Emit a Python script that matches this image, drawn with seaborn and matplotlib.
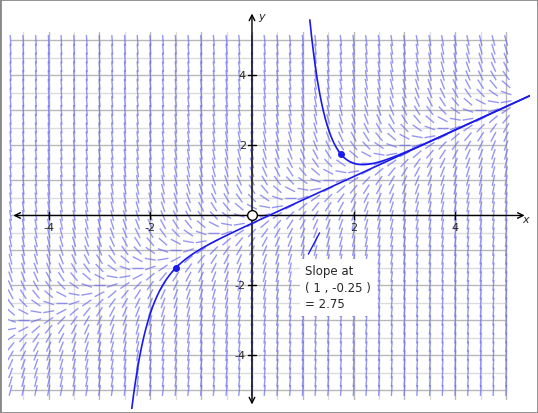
import numpy as np
import pandas as pd
import matplotlib
matplotlib.use("Agg")
import matplotlib.pyplot as plt
import seaborn as sns
from matplotlib.collections import LineCollection
from matplotlib.patches import Rectangle

# ODE dy/dx = a*x + b*y
coef_x = 2.0
coef_y = -3.0
start_points_x = [-1.5, 1.75]
start_points_y = [-1.5, 1.75]
slope_point = (1.0, -0.25)
slope_value = 2.75
slope_mark_center = (1.22, -0.8)
x_ticks = [-4, -2, 2, 4]
y_ticks = [-4, -2, 2, 4]

def f(x, y):
    return coef_x * x + coef_y * y

sns.set_style("white")
fig = plt.figure(figsize=(5.38, 4.14), dpi=100)
xmin, xmax = -4.8, 5.47
ymin, ymax = -5.53, 5.9
ax = fig.add_axes([8/538, 4/414, 522/538, 400/414])
ax.set_xlim(xmin, xmax); ax.set_ylim(ymin, ymax)
ax.axis("off")
pxx = 522 / (xmax - xmin); pxy = 400 / (ymax - ymin)

# grid
for gx in np.arange(-4.5, 5.01, 0.5):
    c = "#b8b8b8" if abs(gx - round(gx)) < 1e-9 else "#dcdcdc"
    ax.plot([gx, gx], [-5.25, 5.25], color=c, lw=1, zorder=1)
for gy in np.arange(-5, 5.01, 0.5):
    c = "#b8b8b8" if abs(gy - round(gy)) < 1e-9 else "#dcdcdc"
    ax.plot([-4.75, 5.0], [gy, gy], color=c, lw=1, zorder=1)

# slope field
segs = []
for gx in np.arange(-4.75, 5.01, 0.25):
    for gy in np.arange(-5.0, 5.01, 0.25):
        s = f(gx, gy)
        th = np.arctan(s * pxy / pxx)
        L = 5.5
        dx = np.cos(th) * L / pxx; dy = np.sin(th) * L / pxy
        segs.append([(gx - dx, gy - dy), (gx + dx, gy + dy)])
ax.add_collection(LineCollection(segs, colors="#6a6af0", linewidths=1, alpha=0.7, zorder=2))

# axes with arrows
ax.annotate("", xy=(xmax - 0.05, 0), xytext=(xmin + 0.05, 0),
            arrowprops=dict(arrowstyle="<->", color="black", lw=1), zorder=3)
ax.annotate("", xy=(0, ymax - 0.05), xytext=(0, ymin + 0.05),
            arrowprops=dict(arrowstyle="<->", color="black", lw=1), zorder=3)
for t in x_ticks:
    ax.plot([t, t], [-0.1, 0.1], color="black", lw=1, zorder=3)
    ax.text(t, -0.2, str(t), ha="center", va="top", fontsize=8, zorder=3)
for t in y_ticks:
    ax.plot([-0.08, 0.08], [t, t], color="black", lw=1, zorder=3)
    ax.text(-0.12, t, str(t), ha="right", va="center", fontsize=8, zorder=3)
ax.text(xmax - 0.15, -0.1, "x", style="italic", fontsize=8, va="center", ha="left")
ax.text(0.12, ymax - 0.2, "y", style="italic", fontsize=8, va="center", ha="left")

# solution curves via RK4
def integrate(x0, y0, x_end, h=0.002):
    xs, ys = [x0], [y0]
    x, y = x0, y0
    step = h if x_end > x0 else -h
    while (x_end - x) * step > 0:
        k1 = f(x, y); k2 = f(x + step/2, y + step*k1/2)
        k3 = f(x + step/2, y + step*k2/2); k4 = f(x + step, y + step*k3)
        y = y + step * (k1 + 2*k2 + 2*k3 + k4) / 6; x = x + step
        if abs(y) > 5.6:
            break
        xs.append(x); ys.append(y)
    return xs, ys

for x0, y0 in zip(start_points_x, start_points_y):
    xl, yl = integrate(x0, y0, xmin)
    xr, yr = integrate(x0, y0, xmax)
    xs = xl[::-1] + xr[1:]; ys = yl[::-1] + yr[1:]
    df = pd.DataFrame({"x": xs, "y": ys})
    sns.lineplot(data=df, x="x", y="y", ax=ax, color="#1a1aee", lw=1.2, sort=False, zorder=4)
    ax.plot(x0, y0, "o", color="#1a1aee", ms=4, zorder=5)

ax.plot(0, 0, "o", mfc="white", mec="black", ms=7, mew=1, zorder=5)

# slope segment
sx, sy = slope_mark_center
th = np.arctan(slope_value * pxy / pxx)
L = 12
ax.plot([sx - np.cos(th)*L/pxx, sx + np.cos(th)*L/pxx],
        [sy - np.sin(th)*L/pxy, sy + np.sin(th)*L/pxy], color="#1a1aee", lw=1, zorder=5)
ax.text(1.05, -1.4, "Slope at\n( %g , %g )\n= %g" % (slope_point[0], slope_point[1], slope_value),
        fontsize=8.5, va="top", ha="left", linespacing=1.35, zorder=6,
        bbox=dict(facecolor="white", edgecolor="none", pad=4))

fig.patches.append(Rectangle((0, 0), 1, 1, transform=fig.transFigure, fill=False,
                             edgecolor="#888888", lw=2))
fig.savefig("out.png", dpi=100)
